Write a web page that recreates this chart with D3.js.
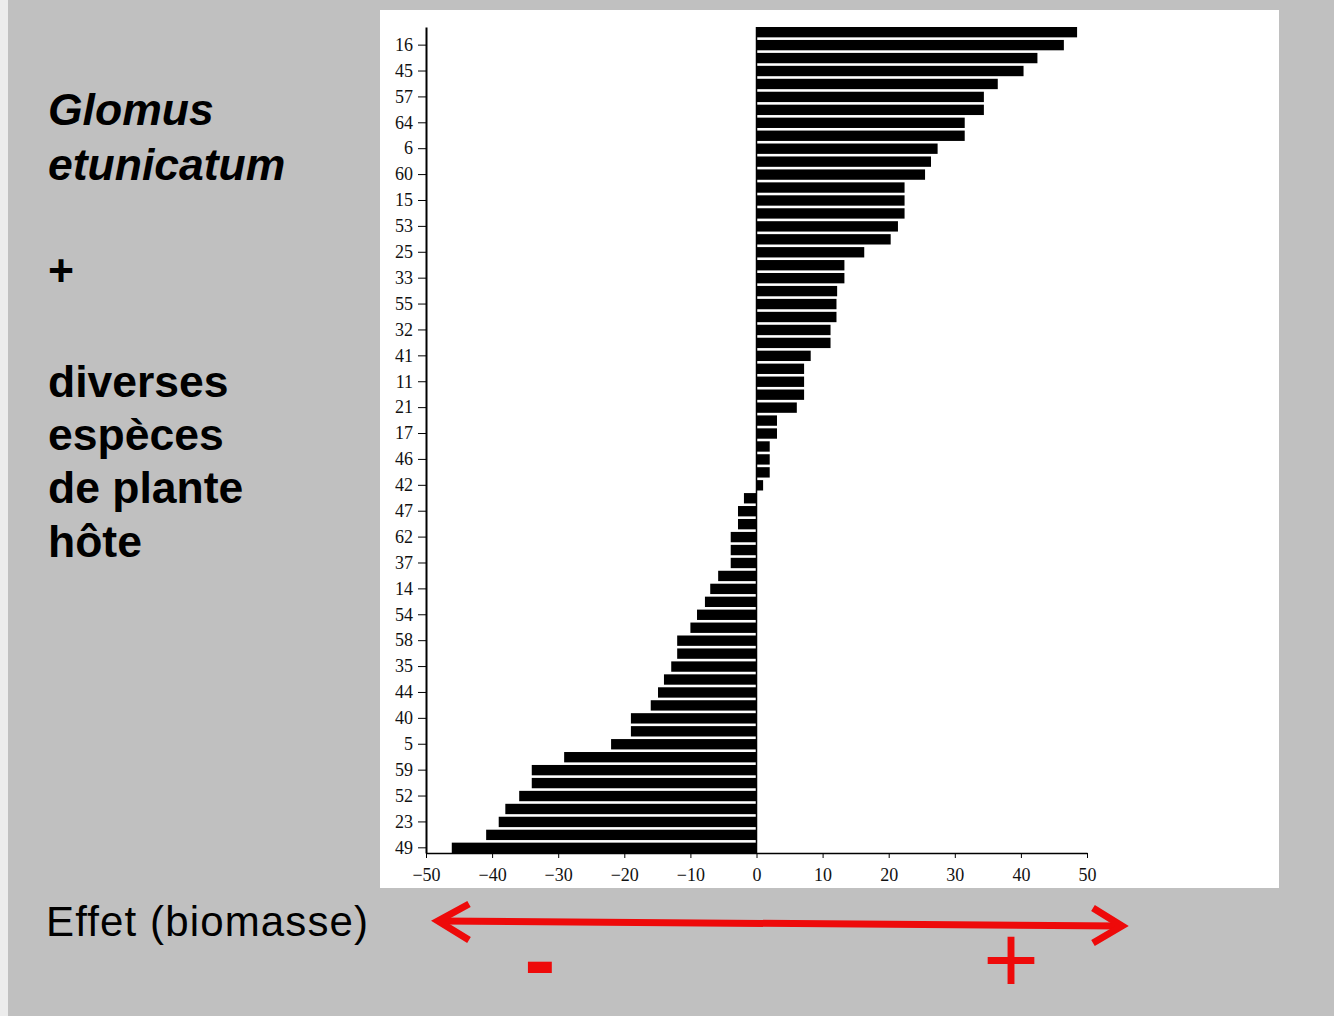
<!DOCTYPE html>
<html>
<head>
<meta charset="utf-8">
<script src="https://cdn.jsdelivr.net/npm/d3@7"></script>
<style>
  body { margin: 0; background: #c0c0c0; }
  svg { display: block; }
</style>
</head>
<body>
<div class="chart"></div>
<script>
// effect on biomass, one bar per plant species, sorted top to bottom
var values = [48.5, 46.5, 42.5, 40.4, 36.5, 34.4, 34.4, 31.5, 31.5, 27.4,
    26.4, 25.5, 22.4, 22.4, 22.4, 21.4, 20.3, 16.3, 13.3, 13.3,
    12.2, 12.1, 12.1, 11.2, 11.2, 8.2, 7.2, 7.2, 7.2, 6.1,
    3.1, 3.1, 2.0, 2.0, 2.0, 1.0, -1.9, -2.8, -2.8, -3.9,
    -3.9, -3.9, -5.8, -7.0, -7.8, -9.0, -10.0, -12.0, -12.0, -12.9,
    -14.0, -14.9, -16.0, -19.0, -19.0, -22.0, -29.1, -34.0, -34.0, -35.9,
    -38.0, -39.0, -40.9, -46.1];

// only every second bar carries a species number
var tickLabels = ["16", "45", "57", "64", "6", "60", "15", "53", "25", "33",
    "55", "32", "41", "11", "21", "17", "46", "42", "47", "62",
    "37", "14", "54", "58", "35", "44", "40", "5", "59", "52", "23", "49"];

var xTicks = [-50, -40, -30, -20, -10, 0, 10, 20, 30, 40, 50];

var width = 1334, height = 1016;

var svg = d3.select(".chart")
    .append("svg")
    .attr("width", width)
    .attr("height", height);

svg.append("rect")
    .attr("width", width).attr("height", height)
    .attr("fill", "#c0c0c0");
svg.append("rect")
    .attr("width", 8).attr("height", height)
    .attr("fill", "#ececec");

// white panel holding the scanned figure
svg.append("rect")
    .attr("x", 380).attr("y", 10)
    .attr("width", 899).attr("height", 878)
    .attr("fill", "#ffffff");

var x = d3.scaleLinear()
    .domain([-50, 50])
    .range([426, 1087]);

var y = d3.scaleBand()
    .domain(d3.range(values.length))
    .range([27, 853])
    .paddingInner(0.2);

// bars
svg.append("g")
    .selectAll("rect")
    .data(values)
    .enter()
    .append("rect")
    .attr("x", function (d) { return x(Math.min(0, d)); })
    .attr("y", function (d, i) { return y(i); })
    .attr("width", function (d) { return Math.abs(x(d) - x(0)); })
    .attr("height", y.bandwidth())
    .attr("fill", "#000");

// zero line
svg.append("line")
    .attr("x1", x(0)).attr("x2", x(0))
    .attr("y1", 27).attr("y2", 853)
    .attr("stroke", "#000")
    .attr("stroke-width", 1.5);

// Y axis
var yAxis = svg.append("g")
    .attr("transform", "translate(" + x(-50) + ",0)")
    .call(d3.axisLeft(y)
        .tickValues(d3.range(1, values.length, 2))
        .tickFormat(function (i) { return tickLabels[(i - 1) / 2]; })
        .tickSize(8)
        .tickSizeOuter(0)
        .tickPadding(5));
yAxis.select(".domain").attr("stroke-width", 2);
yAxis.selectAll("text")
    .attr("font-family", "Liberation Serif, serif")
    .attr("font-size", 18)
    .attr("fill", "#111");

// X axis
var xAxis = svg.append("g")
    .attr("transform", "translate(0,853)")
    .call(d3.axisBottom(x)
        .tickValues(xTicks)
        .tickSize(5)
        .tickSizeOuter(0)
        .tickPadding(10));
xAxis.select(".domain").attr("stroke-width", 1.5);
xAxis.selectAll("text")
    .attr("font-family", "Liberation Serif, serif")
    .attr("font-size", 18)
    .attr("fill", "#111");

// left side captions
var sans = "Liberation Sans, Arial, sans-serif";
var leftLines = [
    { text: "Glomus", y: 125, style: "italic" },
    { text: "etunicatum", y: 180, style: "italic" },
    { text: "+", y: 286, style: "normal" },
    { text: "diverses", y: 397, style: "normal" },
    { text: "espèces", y: 450, style: "normal" },
    { text: "de plante", y: 503, style: "normal" },
    { text: "hôte", y: 557, style: "normal" }
];
svg.append("g")
    .selectAll("text")
    .data(leftLines)
    .enter()
    .append("text")
    .attr("x", 48)
    .attr("y", function (d) { return d.y; })
    .attr("font-family", sans)
    .attr("font-weight", "bold")
    .attr("font-style", function (d) { return d.style; })
    .attr("font-size", 44.5)
    .attr("fill", "#000")
    .text(function (d) { return d.text; });

svg.append("text")
    .attr("x", 46).attr("y", 936)
    .attr("font-family", sans)
    .attr("font-size", 42)
    .attr("textLength", 322)
    .attr("fill", "#000")
    .text("Effet (biomasse)");

// red double arrow
var red = "#ee0a0a";
svg.append("line")
    .attr("x1", 440).attr("y1", 921)
    .attr("x2", 1121).attr("y2", 926)
    .attr("stroke", red).attr("stroke-width", 7);
svg.append("polyline")
    .attr("points", "469,904 438,921 469,940")
    .attr("fill", "none").attr("stroke", red)
    .attr("stroke-width", 7).attr("stroke-linejoin", "miter");
svg.append("polyline")
    .attr("points", "1093,908 1122,926 1093,943")
    .attr("fill", "none").attr("stroke", red)
    .attr("stroke-width", 7).attr("stroke-linejoin", "miter");

svg.append("text")
    .attr("x", 540).attr("y", 992)
    .attr("text-anchor", "middle")
    .attr("font-family", sans)
    .attr("font-weight", "bold")
    .attr("font-size", 94)
    .attr("fill", red)
    .text("-");
svg.append("text")
    .attr("x", 1011).attr("y", 993)
    .attr("text-anchor", "middle")
    .attr("font-family", sans)
    .attr("font-size", 96)
    .attr("fill", red)
    .text("+");
</script>
</body>
</html>
